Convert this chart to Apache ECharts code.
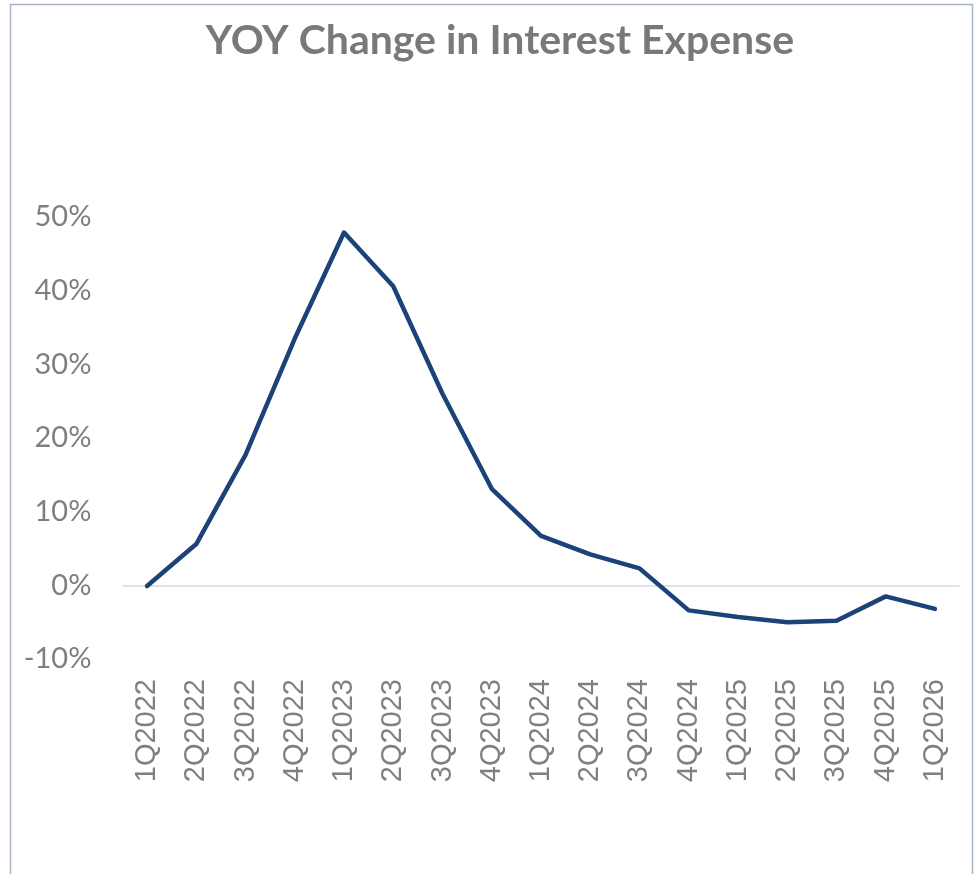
<!DOCTYPE html>
<html>
<head>
<meta charset="utf-8">
<script src="https://cdn.jsdelivr.net/npm/echarts@6/dist/echarts.min.js"></script>
<style>
html,body{margin:0;padding:0;background:#fff;}
#chart{width:976px;height:874px;}
</style>
</head>
<body>
<div id="chart"></div>
<script>
const categories = ['1Q2022','2Q2022','3Q2022','4Q2022','1Q2023','2Q2023','3Q2023','4Q2023','1Q2024','2Q2024','3Q2024','4Q2024','1Q2025','2Q2025','3Q2025','4Q2025','1Q2026'];
const yoyChange = [-0.1, 5.6, 17.7, 33.5, 47.9, 40.6, 26.0, 13.1, 6.7, 4.2, 2.3, -3.4, -4.3, -5.0, -4.8, -1.5, -3.2];
const yTicks = { min: -10, max: 50, interval: 10 };

const chart = echarts.init(document.getElementById('chart'), null, {renderer:'canvas'});
chart.setOption({
  animation: false,
  backgroundColor: '#ffffff',
  graphic: [{
    type: 'rect',
    shape: { x: 10.5, y: 4.5, width: 962, height: 900 },
    style: { fill: 'none', stroke: '#a7b4c6', lineWidth: 1.5 },
    silent: true
  }],
  title: {
    text: 'YOY Change in Interest Expense',
    left: 495,
    textAlign: 'center',
    top: 15,
    textStyle: { fontFamily: 'Lato', fontWeight: 'bold', fontSize: 41, color: '#797979' }
  },
  grid: { left: 122.4, right: 16.4, top: 217, bottom: 215, containLabel: false },
  xAxis: {
    type: 'category',
    data: categories,
    boundaryGap: true,
    axisLine: { show: false, onZero: false },
    axisTick: { show: false },
    splitLine: { show: false },
    axisLabel: {
      rotate: 90,
      margin: 20,
      interval: 0,
      fontFamily: 'Liberation Sans',
      fontSize: 29,
      color: '#808080'
    }
  },
  yAxis: {
    type: 'value',
    min: yTicks.min,
    max: yTicks.max,
    interval: yTicks.interval,
    axisLine: { show: false },
    axisTick: { show: false },
    splitLine: { show: false },
    axisLabel: {
      formatter: '{value}%',
      margin: 31,
      fontFamily: 'Lato',
      fontSize: 29,
      color: '#7f7f7f'
    }
  },
  series: [{
    type: 'line',
    data: yoyChange,
    symbol: 'none',
    lineStyle: { color: '#1b4378', width: 4.5, join: 'round', cap: 'round' },
    markLine: {
      silent: true,
      symbol: 'none',
      label: { show: false },
      lineStyle: { color: '#d9d9d9', width: 1.5, type: 'solid' },
      data: [{ yAxis: 0 }],
      z: 1
    },
    z: 3
  }]
});
</script>
</body>
</html>
